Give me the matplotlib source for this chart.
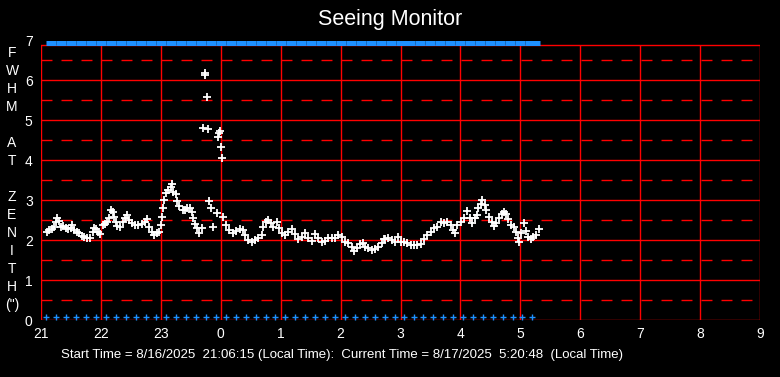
import matplotlib
matplotlib.use("Agg")
import matplotlib.pyplot as plt
import matplotlib.transforms as mtransforms

plt.rcParams["font.family"] = ["Liberation Sans", "DejaVu Sans"]
plt.rcParams["lines.scale_dashes"] = False

# hour labels along x (axis position = hours after 21:00)
hour_labels = ["21", "22", "23", "0", "1", "2", "3", "4", "5", "6", "7", "8", "9"]

# seeing samples: (minutes after 21:00, FWHM arcsec)
seeing = [
    (6, 2.19), (8, 2.25), (11, 2.28), (13, 2.33), (15, 2.46), (16, 2.54), (18, 2.48), (20, 2.33),
    (22, 2.36), (25, 2.29), (27, 2.28), (30, 2.29), (31, 2.38), (33, 2.25), (36, 2.19), (38, 2.17),
    (41, 2.11), (43, 2.08), (46, 2.06), (49, 2.06), (52, 2.19), (53, 2.29), (55, 2.28), (57, 2.19),
    (59, 2.14), (62, 2.38), (64, 2.39), (66, 2.46), (68, 2.54), (70, 2.75), (72, 2.71), (73, 2.58),
    (75, 2.46), (76, 2.36), (79, 2.33), (82, 2.46), (84, 2.54), (86, 2.63), (88, 2.50), (91, 2.42),
    (94, 2.38), (97, 2.38), (101, 2.39), (104, 2.46), (106, 2.53), (108, 2.33), (111, 2.21), (113, 2.13),
    (116, 2.17), (118, 2.21), (120, 2.38), (121, 2.58), (122, 2.81), (123, 3.00), (125, 3.17), (127, 3.25),
    (130, 3.33), (131, 3.39), (132, 3.21), (135, 3.14), (136, 2.98), (138, 2.86), (142, 2.75), (144, 2.75),
    (146, 2.81), (149, 2.79), (151, 2.69), (152, 2.54), (154, 2.39), (156, 2.29), (158, 2.17), (161, 2.31),
    (162, 4.79), (164, 6.17), (164, 6.13), (166, 5.57), (167, 4.77), (168, 2.98), (170, 2.79), (172, 2.33),
    (176, 2.67), (177, 4.57), (178, 4.67), (179, 4.73), (180, 4.32), (181, 4.04), (182, 2.58), (185, 2.38),
    (188, 2.25), (192, 2.17), (195, 2.23), (199, 2.28), (202, 2.25), (204, 2.13), (207, 2.00), (211, 1.96),
    (214, 2.00), (217, 2.04), (221, 2.13), (222, 2.33), (225, 2.46), (227, 2.50), (230, 2.42), (232, 2.33),
    (236, 2.46), (238, 2.29), (241, 2.17), (244, 2.13), (247, 2.21), (251, 2.27), (254, 2.14), (257, 2.02),
    (261, 2.08), (264, 2.17), (267, 2.04), (271, 1.98), (274, 2.14), (277, 2.04), (281, 1.96), (284, 1.98),
    (287, 2.04), (291, 2.04), (294, 2.06), (297, 2.13), (301, 2.08), (304, 1.96), (307, 1.92), (311, 1.83),
    (313, 1.73), (316, 1.79), (319, 1.89), (322, 1.92), (324, 1.83), (327, 1.79), (331, 1.75), (334, 1.77),
    (337, 1.83), (341, 1.92), (343, 2.02), (344, 2.02), (347, 2.04), (351, 2.00), (354, 1.96), (357, 2.08),
    (361, 1.96), (364, 1.96), (367, 1.92), (371, 1.88), (374, 1.88), (377, 1.88), (381, 1.90), (384, 2.02),
    (387, 2.13), (391, 2.21), (394, 2.29), (397, 2.32), (401, 2.46), (404, 2.42), (407, 2.46), (411, 2.38),
    (413, 2.25), (415, 2.18), (417, 2.38), (421, 2.46), (424, 2.54), (427, 2.73), (430, 2.54), (432, 2.42),
    (435, 2.54), (437, 2.63), (438, 2.79), (441, 2.90), (442, 3.00), (445, 2.88), (446, 2.75), (449, 2.58),
    (452, 2.46), (454, 2.35), (456, 2.43), (459, 2.54), (462, 2.65), (464, 2.71), (466, 2.65), (468, 2.52),
    (471, 2.38), (474, 2.32), (476, 2.21), (478, 2.04), (479, 1.96), (481, 2.17), (484, 2.42), (486, 2.23),
    (488, 2.08), (491, 2.02), (493, 2.08), (496, 2.12), (499, 2.27),
]
seeing_min = [p[0] for p in seeing]
seeing_fwhm = [p[1] for p in seeing]

# status flags (blue): top band and bottom row, minutes after 21:00
top_flag_min = [10, 20, 30, 40, 50, 60, 70, 80, 90, 100, 110, 120, 130, 140, 150, 160, 170, 180, 190, 200,
                210, 220, 230, 240, 250, 260, 270, 280, 290, 300, 310, 320, 330, 340, 350, 360, 370, 380, 390, 400,
                410, 420, 430, 440, 450, 460, 470, 480, 490, 495]
bottom_flag_min = [5, 15, 25, 35, 45, 55, 65, 75, 85, 95, 105, 115, 125, 135, 145, 155, 165, 175, 185, 195,
                   205, 215, 225, 234, 244, 254, 264, 274, 284, 294, 304, 314, 324, 334, 344, 354, 364, 374, 383, 393,
                   403, 413, 423, 433, 443, 453, 463, 473, 482, 492]
top_flag_level = 7
bottom_flag_level = 0

title = "Seeing Monitor"
footer = "Start Time = 8/16/2025  21:06:15 (Local Time):  Current Time = 8/17/2025  5:20:48  (Local Time)"
ylabel_letters = ["F", "W", "H", "M", "", "A", "T", "", "Z", "E", "N", "I", "T", "H", '(")']

TOP_EDGE = 6.875
RED = "#ff0000"
BLUE = "#1e90ff"

fig = plt.figure(figsize=(7.8, 3.77), dpi=100, facecolor="black")
ax = fig.add_axes([41 / 780, 1 - 320 / 377, 719 / 780, 280 / 377])
ax.set_facecolor("black")
for s in ax.spines.values():
    s.set_visible(False)

ax.set_xlim(0, 12)
ax.set_ylim(0, 7)

# grid
ax.vlines(range(13), 0, TOP_EDGE, color=RED, lw=1.0, zorder=1)
for yv in range(7):
    ax.axhline(yv, color=RED, lw=1.0, zorder=1)
ax.axhline(TOP_EDGE, color=RED, lw=1.0, zorder=1)
for yv in [0.5, 1.5, 2.5, 3.5, 4.5, 5.5, 6.5]:
    ax.axhline(yv, color=RED, lw=1.0, ls=(0, (7.9, 6.5)), zorder=1)

# blue status flags
top_tr = mtransforms.offset_copy(ax.transData, fig=fig, x=0, y=-2.5, units="dots")
bot_tr = mtransforms.offset_copy(ax.transData, fig=fig, x=0, y=3, units="dots")
ax.plot([m / 60 for m in top_flag_min], [top_flag_level] * len(top_flag_min), ls="none",
        marker="_", ms=7.0, mew=3.6, color=BLUE, transform=top_tr, clip_on=False, zorder=3)
ax.plot([m / 60 for m in bottom_flag_min], [bottom_flag_level] * len(bottom_flag_min), ls="none",
        marker="+", ms=5, mew=1.0, color=BLUE, transform=bot_tr, clip_on=False, zorder=3)

# seeing points
ax.plot([m / 60 for m in seeing_min], seeing_fwhm, ls="none", marker="+", ms=5.8, mew=1.3,
        color="white", zorder=4)

ax.set_xticks(range(13))
ax.set_xticklabels(hour_labels)
ax.set_yticks(range(8))
ax.tick_params(length=0, colors="white", labelsize=10)
ax.tick_params(axis="x", pad=5)
ax.tick_params(axis="y", pad=6)

fig.text(0.5, 1 - 20 / 377, title, color="white", fontsize=15.5, ha="center", va="center")
fig.text(342 / 780, 1 - 355 / 377, footer, color="white", fontsize=9.5, ha="center", va="center")
for i, ch in enumerate(ylabel_letters):
    if ch:
        fig.text(12 / 780, 1 - (53 + 18 * i) / 377, ch, color="white", fontsize=10,
                 ha="center", va="center")

fig.savefig("out.png", dpi=100, facecolor="black")
